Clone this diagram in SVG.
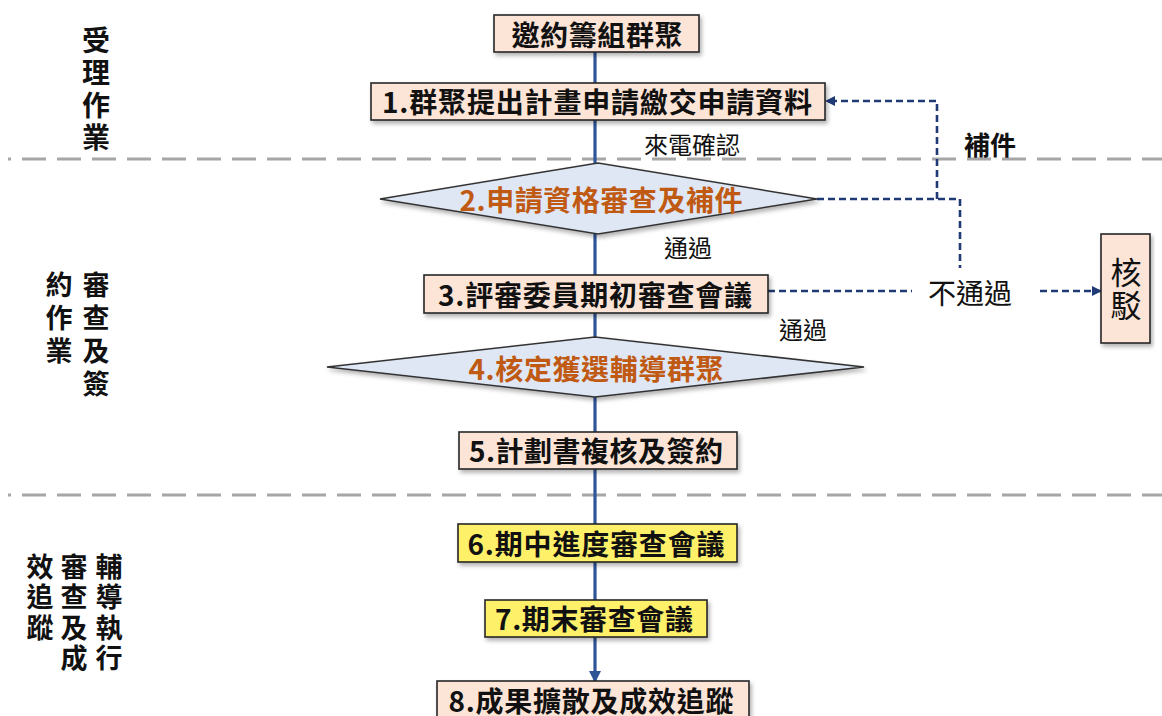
<svg xmlns="http://www.w3.org/2000/svg" width="1162" height="716" viewBox="0 0 1162 716">
<style>
text{font-family:"Noto Sans CJK TC","Liberation Sans",sans-serif;fill:#111;}
.bx{fill:#FCE4D6;stroke:#262626;stroke-width:1.6;filter:url(#sh);}
.yb{fill:#FFF06A;stroke:#262626;stroke-width:1.6;filter:url(#sh);}
.dm{fill:#DFE7F5;stroke:#333;stroke-width:1.5;filter:url(#sh);}
.bt{font-size:28px;font-weight:bold;text-anchor:middle;dominant-baseline:central;}
.dt{font-size:28px;font-weight:bold;text-anchor:middle;dominant-baseline:central;fill:#C05A13;}
.lb{font-size:24px;text-anchor:middle;dominant-baseline:central;}
.vs{font-size:27px;font-weight:bold;writing-mode:vertical-rl;text-anchor:start;}
.sep{stroke:#A6A6A6;stroke-width:3;stroke-dasharray:24 11;stroke-dashoffset:21;fill:none;}
.dash{stroke:#1F3A75;stroke-width:2.6;stroke-dasharray:7 4;fill:none;}
.main{stroke:#2F5597;stroke-width:3.2;fill:none;}
</style>
<defs>
<filter id="sh" x="-10%" y="-20%" width="120%" height="150%">
<feDropShadow dx="2" dy="3" stdDeviation="2" flood-color="#000" flood-opacity="0.3"/>
</filter>
<marker id="ab" markerWidth="12" markerHeight="12" refX="10" refY="6" orient="auto" markerUnits="userSpaceOnUse">
<path d="M0,0 L12,6 L0,12 z" fill="#2F5597"/>
</marker>
<marker id="ad" markerWidth="10" markerHeight="10" refX="9" refY="5" orient="auto" markerUnits="userSpaceOnUse">
<path d="M0,0 L10,5 L0,10 z" fill="#1F3A75"/>
</marker>
</defs>
<rect width="1162" height="716" fill="#fff"/>

<g id="separators">
<line class="sep" x1="8" y1="159" x2="1162" y2="159"/>
<line class="sep" x1="8" y1="495" x2="1162" y2="495"/>
</g>

<g id="phase-labels">
<text id="phase1" class="vs" x="96" y="26" style="font-size:28px;letter-spacing:4.5px">受理作業</text>
<g id="phase2">
<text class="vs" x="96" y="271" style="letter-spacing:6px">審查及簽</text>
<text class="vs" x="59" y="271" style="letter-spacing:6px">約作業</text>
</g>
<g id="phase3">
<text class="vs" x="109" y="553" style="letter-spacing:3.5px">輔導執行</text>
<text class="vs" x="74" y="553" style="letter-spacing:3.5px">審查及成</text>
<text class="vs" x="40" y="553" style="letter-spacing:3.5px">效追蹤</text>
</g>
</g>

<g id="connectors">
<line class="main" x1="595" y1="52" x2="595" y2="681" marker-end="url(#ab)"/>
<path class="dash" d="M937,199 V101 H826" marker-end="url(#ad)"/>
<path class="dash" d="M817,199 H960 V268"/>
<path class="dash" d="M768,291 H912"/>
<path class="dash" d="M1040,291 H1101" marker-end="url(#ad)"/>
</g>

<g id="edge-labels">
<text class="lb" x="692" y="143">來電確認</text>
<text class="lb" x="990" y="143" style="font-weight:bold;font-size:26px">補件</text>
<text class="lb" x="688" y="246">通過</text>
<text class="lb" x="970" y="292" style="font-size:28px">不通過</text>
<text class="lb" x="803" y="328">通過</text>
</g>

<g id="n0">
<rect class="bx" x="494" y="15" width="205" height="37"/>
<text class="bt" x="597" y="34" textLength="171" lengthAdjust="spacing">邀約籌組群聚</text>
</g>
<g id="n1">
<rect class="bx" x="371" y="83" width="454" height="37"/>
<text class="bt" x="597" y="101" textLength="430" lengthAdjust="spacing">1.群聚提出計畫申請繳交申請資料</text>
</g>
<g id="n2">
<polygon class="dm" points="380,199 598,163 817,199 598,234"/>
<text class="dt" x="601" y="199" textLength="283" lengthAdjust="spacing">2.申請資格審查及補件</text>
</g>
<g id="n3">
<rect class="bx" x="424" y="275" width="344" height="38"/>
<text class="bt" x="595" y="294" textLength="314" lengthAdjust="spacing">3.評審委員期初審查會議</text>
</g>
<g id="n4">
<polygon class="dm" points="327,367 595,337 864,367 595,397"/>
<text class="dt" x="596" y="368" textLength="255" lengthAdjust="spacing">4.核定獲選輔導群聚</text>
</g>
<g id="n5">
<rect class="bx" x="459" y="432" width="278" height="37"/>
<text class="bt" x="596" y="450" textLength="254" lengthAdjust="spacing">5.計劃書複核及簽約</text>
</g>
<g id="n6">
<rect class="yb" x="458" y="524" width="279" height="38"/>
<text class="bt" x="596" y="543" textLength="257" lengthAdjust="spacing">6.期中進度審查會議</text>
</g>
<g id="n7">
<rect class="yb" x="485" y="600" width="222" height="37"/>
<text class="bt" x="594" y="618" textLength="198" lengthAdjust="spacing">7.期末審查會議</text>
</g>
<g id="n8">
<rect class="bx" x="437" y="681" width="312" height="42"/>
<text class="bt" x="591" y="700" textLength="285" lengthAdjust="spacing">8.成果擴散及成效追蹤</text>
</g>
<g id="reject">
<rect class="bx" x="1101" y="234" width="49" height="109"/>
<text class="vs" x="1126" y="257" style="font-size:31px;font-weight:normal;letter-spacing:2px">核駁</text>
</g>
</svg>
